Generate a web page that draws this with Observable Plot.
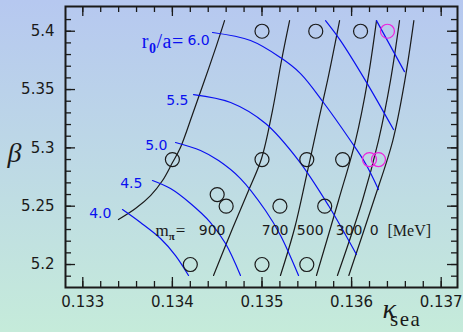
<!DOCTYPE html>
<html><head><meta charset="utf-8">
<script src="https://cdn.jsdelivr.net/npm/d3@7"></script>
<script src="https://cdn.jsdelivr.net/npm/@observablehq/plot@0.6"></script>
<style>
html,body{margin:0;padding:0;}
body{width:463px;height:332px;background:linear-gradient(to bottom,#b6c8f0,#c5ebda);overflow:hidden;}
</style></head><body><div id="chart"></div>
<script>
// ---- axis ticks ----
const kappaTicks = [0.133, 0.134, 0.135, 0.136, 0.137];
const kappaMinorTicks = d3.range(665, 686).map(i => i * 0.0002);
const betaTicks = [5.2, 5.25, 5.3, 5.35, 5.4];
const betaMinorTicks = d3.range(519, 542).map(i => i / 100);

// ---- simulation points ----
const simKappa = [0.1342, 0.1350, 0.1355, 0.1346, 0.1352, 0.1357, 0.1345, 0.1340, 0.1350, 0.1355, 0.1359, 0.1350, 0.1356, 0.1361];
const simBeta  = [5.20,   5.20,   5.20,   5.25,   5.25,   5.25,   5.26,   5.29,   5.29,   5.29,   5.29,   5.40,   5.40,   5.40];
const newKappa = [0.1362, 0.1363, 0.1364];
const newBeta  = [5.29,   5.29,   5.40];

// ---- r0/a = const curves (blue) ----
const r0aLabels = ["4.0", "4.5", "5.0", "5.5", "6.0"];
const r0aLabelKappa = [0.133320, 0.133666, 0.133945, 0.134180, 0.134416];
const r0aLabelBeta  = [5.2433,   5.2694,   5.3020,   5.3406,   5.3920];
const r0a40 = [[0.133443,5.2471],[0.133644,5.2360],[0.133867,5.2223],[0.134035,5.2077],[0.134180,5.1906]];
const r0a45 = [[0.133778,5.2720],[0.133979,5.2651],[0.134202,5.2523],[0.134425,5.2360],[0.134593,5.2180],[0.134760,5.1906]];
const r0a50 = [[0.134035,5.3046],[0.134314,5.2977],[0.134515,5.2891],[0.134760,5.2737],[0.135039,5.2463],[0.135207,5.2249],[0.135408,5.1906]];
const r0a55 = [[0.134236,5.3457],[0.134650,5.3389],[0.135040,5.3209],[0.135409,5.2891],[0.135742,5.2506],[0.136054,5.2086]];
const r0a60 = [[0.134448,5.3989],[0.134872,5.3920],[0.135206,5.3774],[0.135430,5.3637],[0.135686,5.3389],[0.135987,5.3063],[0.136155,5.2866],[0.136300,5.2643]];
const r0a65 = [[0.135709,5.4091],[0.135876,5.3920],[0.136155,5.3577],[0.136468,5.3157]];
const r0a70 = [[0.136278,5.4091],[0.136590,5.3654]];

// ---- m_pi = const curves (black) ----
const mpiLabels = ["900", "700", "500", "300", "0"];
const mpiLabelKappa = [0.134593, 0.135296, 0.135687, 0.136122, 0.136301];
const mpiLabelBeta = 5.229;
const mpiEdge = [[0.133398,5.2386],[0.133588,5.2480],[0.133756,5.2591],[0.133890,5.2720],[0.134001,5.2874],[0.134090,5.3003],[0.134224,5.3286],[0.134358,5.3577],[0.134492,5.3877],[0.134582,5.4091]];
const mpi900 = [[0.134459,5.1906],[0.134671,5.2309],[0.134850,5.2634],[0.134995,5.2909],[0.135117,5.3320],[0.135218,5.3749],[0.135308,5.4091]];
const mpi700 = [[0.135206,5.1906],[0.135363,5.2309],[0.135497,5.2763],[0.135631,5.3234],[0.135743,5.3620],[0.135866,5.4091]];
const mpi500 = [[0.135608,5.1906],[0.135854,5.2549],[0.136044,5.3063],[0.136179,5.3577],[0.136278,5.4091]];
const mpi300 = [[0.135842,5.1906],[0.136121,5.2549],[0.136300,5.3063],[0.136434,5.3577],[0.136535,5.4091]];
const mpi0   = [[0.135969,5.1906],[0.136248,5.2549],[0.136460,5.3063],[0.136594,5.3577],[0.136695,5.4091]];

// ---- build tables ----
const blueCurves = [r0a40, r0a45, r0a50, r0a55, r0a60, r0a65, r0a70];
const blueRows = blueCurves.flatMap((c, i) => c.map(([k, b]) => ({k, b, id: i})));
const blueText = r0aLabels.map((t, i) => ({k: r0aLabelKappa[i], b: r0aLabelBeta[i], t}));
const blackCurves = [mpiEdge, mpi900, mpi700, mpi500, mpi300, mpi0];
const blackRows = blackCurves.flatMap((c, i) => c.map(([k, b]) => ({k, b, id: i})));
const sims = simKappa.map((k, i) => ({k, b: simBeta[i]}));
const news = newKappa.map((k, i) => ({k, b: newBeta[i]}));
const mpiText = mpiLabels.map((t, i) => ({k: mpiLabelKappa[i], b: mpiLabelBeta, t}));

const W = 463, H = 332, mL = 65, mR = 6, mT = 6, mB = 45;
const iW = W - mL - mR, iH = H - mT - mB;
const ink = "#1a1a1a";
const blue = "#0a10f0";

const svg = Plot.plot({
  width: W, height: H,
  marginLeft: mL, marginRight: mR, marginTop: mT, marginBottom: mB,
  x: {domain: [0.132807, 0.137182], axis: null},
  y: {domain: [5.1803, 5.4212], axis: null},
  style: {background: "transparent", fontFamily: "DejaVu Sans", fontSize: "15px", color: ink, overflow: "visible"},
  marks: [
    // curves
    Plot.line(blackRows, {x: "k", y: "b", z: "id", stroke: ink, strokeWidth: 1.2, curve: "catmull-rom"}),
    Plot.line(blueRows, {x: "k", y: "b", z: "id", stroke: blue, strokeWidth: 1.2, curve: "catmull-rom"}),
    Plot.dot(sims, {x: "k", y: "b", r: 7, stroke: ink, strokeWidth: 1.2, fill: "none"}),
    Plot.dot(news, {x: "k", y: "b", r: 7, stroke: "#ee22dd", strokeWidth: 1.2, fill: "none"}),
    // labels of r0/a curves
    Plot.text(blueText, {x: "k", y: "b", text: "t", textAnchor: "end", fill: blue, fontFamily: "DejaVu Sans", fontSize: 14}),
    Plot.text(blueText.filter(d => d.t === "6.0"), {x: "k", y: "b", text: () => "r0/a=", textAnchor: "end", dx: -26, dy: 1, fill: blue, fontFamily: "Liberation Serif", fontSize: 20}),
    // labels of m_pi curves
    Plot.text(mpiText, {x: "k", y: "b", text: "t", textAnchor: "end", fill: ink, fontFamily: "DejaVu Sans", fontSize: 14}),
    Plot.text([0.133811], {x: d => d, y: () => mpiLabelBeta, text: () => "m_pi=", textAnchor: "start", fill: ink, fontFamily: "Liberation Serif", fontSize: 17}),
    Plot.text([0.136401], {x: d => d, y: () => mpiLabelBeta, text: () => "[MeV]", textAnchor: "start", fill: ink, fontFamily: "Liberation Serif", fontSize: 16}),
    // ticks (inward, all four sides)
    Plot.tickX(kappaTicks, {x: d => d, insetTop: iH - 10, stroke: ink, strokeWidth: 1.3}),
    Plot.tickX(kappaMinorTicks, {x: d => d, insetTop: iH - 6, stroke: ink, strokeWidth: 1.3}),
    Plot.tickX(kappaTicks, {x: d => d, insetBottom: iH - 10, stroke: ink, strokeWidth: 1.3}),
    Plot.tickX(kappaMinorTicks, {x: d => d, insetBottom: iH - 6, stroke: ink, strokeWidth: 1.3}),
    Plot.tickY(betaTicks, {y: d => d, insetRight: iW - 10, stroke: ink, strokeWidth: 1.3}),
    Plot.tickY(betaMinorTicks.filter(d => d > 5.181 && d < 5.42), {y: d => d, insetRight: iW - 6, stroke: ink, strokeWidth: 1.3}),
    Plot.tickY(betaTicks, {y: d => d, insetLeft: iW - 10, stroke: ink, strokeWidth: 1.3}),
    Plot.tickY(betaMinorTicks.filter(d => d > 5.181 && d < 5.42), {y: d => d, insetLeft: iW - 6, stroke: ink, strokeWidth: 1.3}),
    Plot.frame({stroke: ink, strokeWidth: 2}),
    // tick labels
    Plot.axisX(kappaTicks, {tickSize: 0, tickPadding: 9, tickFormat: d => d.toFixed(3), label: null, fontSize: 15, fill: ink}),
    Plot.axisY(betaTicks, {tickSize: 0, tickPadding: 11, tickFormat: d => String(+d.toFixed(2)), label: null, fontSize: 15, fill: ink}),
    // axis titles
    Plot.text(["beta"], {frameAnchor: "left", dx: -58, dy: 6, textAnchor: "start", text: () => "β", fontFamily: "Liberation Serif", fontStyle: "italic", fontSize: 28, fill: ink}),
    Plot.text(["kappa"], {frameAnchor: "bottom-right", dx: -75, dy: 30, textAnchor: "start", text: () => "κsea", fontFamily: "Liberation Serif", fontStyle: "italic", fontSize: 28, fill: ink})
  ]
});

// rich text (subscripts)
d3.select(svg).selectAll("text").each(function () {
  const t = d3.select(this);
  const s = this.textContent;
  if (s === "r0/a=") {
    t.text("");
    t.attr("letter-spacing", 0.5);
    t.append("tspan").text("r");
    t.append("tspan").attr("dy", 5).attr("font-size", 14).attr("font-weight", "bold").text("0");
    t.append("tspan").attr("dy", -5).text("/a=");
  } else if (s === "m_pi=") {
    t.text("");
    t.append("tspan").text("m");
    t.append("tspan").attr("dy", 4).attr("font-size", 11).attr("font-weight", "bold").text("π");
    t.append("tspan").attr("dy", -4).attr("dx", 1).text("= ");
  } else if (s === "κsea") {
    t.text("");
    t.append("tspan").text("κ");
    t.append("tspan").attr("dy", 8).attr("dx", -6).attr("font-size", 21).attr("letter-spacing", 1.5).attr("font-style", "normal").text("sea");
  }
});
document.getElementById("chart").appendChild(svg);
</script>
</body></html>
